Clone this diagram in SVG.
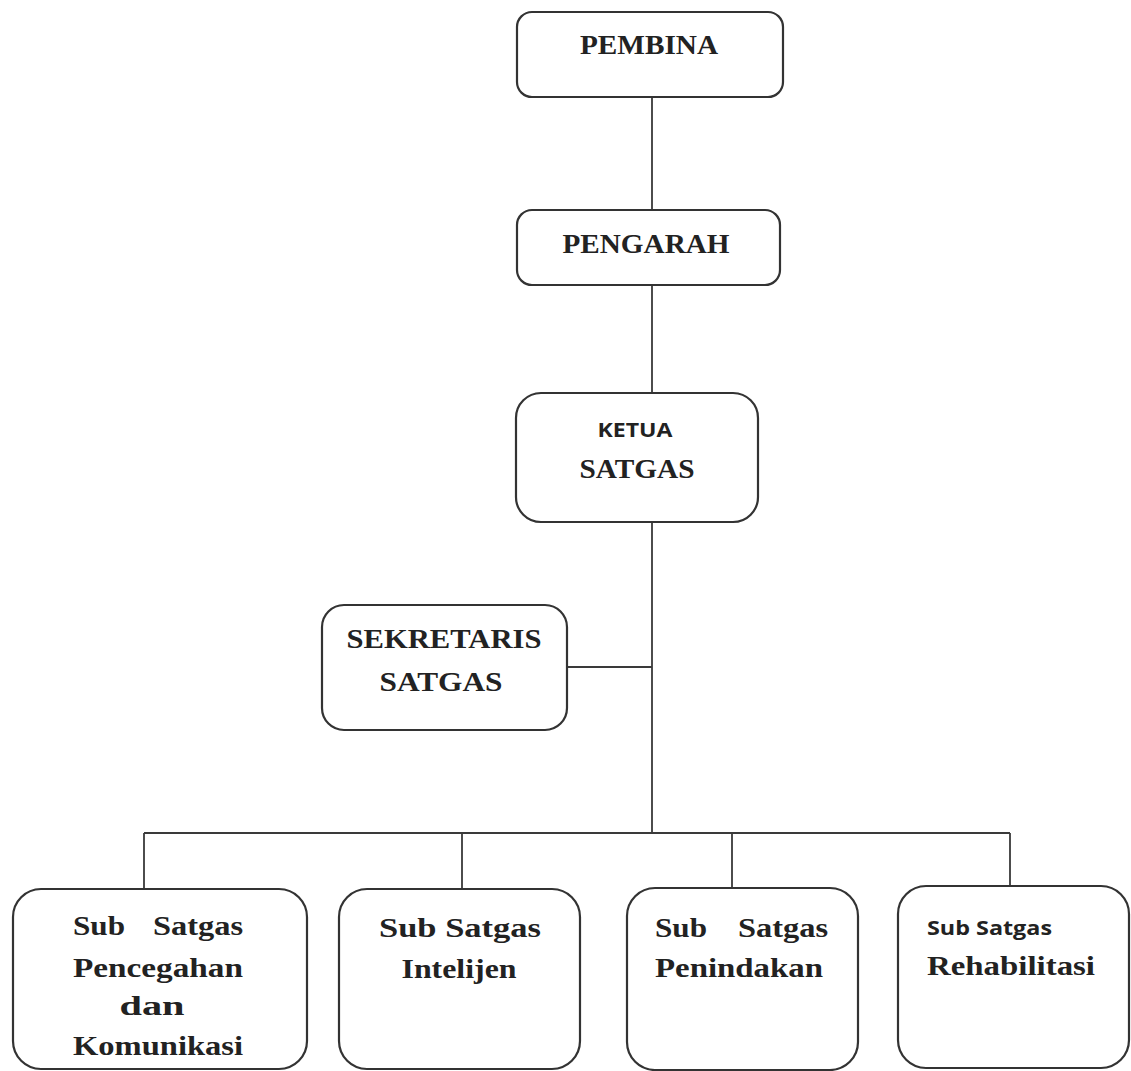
<svg xmlns="http://www.w3.org/2000/svg" width="1131" height="1071" viewBox="0 0 1131 1071">
<style>
.box{fill:#fff;stroke:#333;stroke-width:2.2}
.ln{stroke:#3a3a3a;stroke-width:1.8;fill:none}
.t{font-family:"Liberation Serif","DejaVu Serif",serif;font-weight:bold;font-size:28px;fill:#222}
.s{font-family:"Open Sans","Liberation Sans",sans-serif;font-weight:bold;font-size:19px;fill:#222}
.b{font-family:"Liberation Serif","DejaVu Serif",serif;font-weight:bold;font-size:27px;fill:#222}
</style>
<rect width="1131" height="1071" fill="#fff"/>
<g id="connectors">
<path class="ln" d="M652 97V210M652 285V393M652 522V833M567 667H652M144 833H1010M144 833V889M462 833V889M732 833V888M1010 833V886"/>
</g>
<g id="pembina">
<rect class="box" x="517" y="12" width="266" height="85" rx="15"/>
<text class="t" x="649" y="54" text-anchor="middle" textLength="138" lengthAdjust="spacingAndGlyphs">PEMBINA</text>
</g>
<g id="pengarah">
<rect class="box" x="517" y="210" width="263" height="75" rx="15"/>
<text class="t" x="646" y="253" text-anchor="middle" textLength="167" lengthAdjust="spacingAndGlyphs">PENGARAH</text>
</g>
<g id="ketua">
<rect class="box" x="516" y="393" width="242" height="129" rx="25"/>
<text class="s" x="635" y="437" text-anchor="middle" textLength="75" lengthAdjust="spacingAndGlyphs">KETUA</text>
<text class="t" x="637" y="478" text-anchor="middle" textLength="115" lengthAdjust="spacingAndGlyphs">SATGAS</text>
</g>
<g id="sekretaris">
<rect class="box" x="322" y="605" width="245" height="125" rx="22"/>
<text class="t" x="444" y="648" text-anchor="middle" textLength="195" lengthAdjust="spacingAndGlyphs">SEKRETARIS</text>
<text class="t" x="441" y="691" text-anchor="middle" textLength="123" lengthAdjust="spacingAndGlyphs">SATGAS</text>
</g>
<g id="sub-pencegahan">
<rect class="box" x="13" y="889" width="294" height="180" rx="28"/>
<text class="b"><tspan x="73" y="935" textLength="52" lengthAdjust="spacingAndGlyphs">Sub</tspan><tspan x="243" y="935" text-anchor="end" textLength="90" lengthAdjust="spacingAndGlyphs">Satgas</tspan></text>
<text class="b" x="158" y="977" text-anchor="middle" textLength="170" lengthAdjust="spacingAndGlyphs">Pencegahan</text>
<text class="b" x="152" y="1015" text-anchor="middle" textLength="65" lengthAdjust="spacingAndGlyphs">dan</text>
<text class="b" x="158" y="1055" text-anchor="middle" textLength="170" lengthAdjust="spacingAndGlyphs">Komunikasi</text>
</g>
<g id="sub-intelijen">
<rect class="box" x="339" y="889" width="241" height="180" rx="28"/>
<text class="b" x="460" y="937" text-anchor="middle" textLength="162" lengthAdjust="spacingAndGlyphs">Sub Satgas</text>
<text class="b" x="459" y="978" text-anchor="middle" textLength="115" lengthAdjust="spacingAndGlyphs">Intelijen</text>
</g>
<g id="sub-penindakan">
<rect class="box" x="627" y="888" width="231" height="182" rx="28"/>
<text class="b"><tspan x="655" y="937" textLength="52" lengthAdjust="spacingAndGlyphs">Sub</tspan><tspan x="828" y="937" text-anchor="end" textLength="90" lengthAdjust="spacingAndGlyphs">Satgas</tspan></text>
<text class="b" x="739" y="977" text-anchor="middle" textLength="168" lengthAdjust="spacingAndGlyphs">Penindakan</text>
</g>
<g id="sub-rehabilitasi">
<rect class="box" x="898" y="886" width="231" height="182" rx="28"/>
<text class="s" x="927" y="935" textLength="125" lengthAdjust="spacingAndGlyphs">Sub Satgas</text>
<text class="b" x="927" y="975" textLength="168" lengthAdjust="spacingAndGlyphs">Rehabilitasi</text>
</g>
</svg>
